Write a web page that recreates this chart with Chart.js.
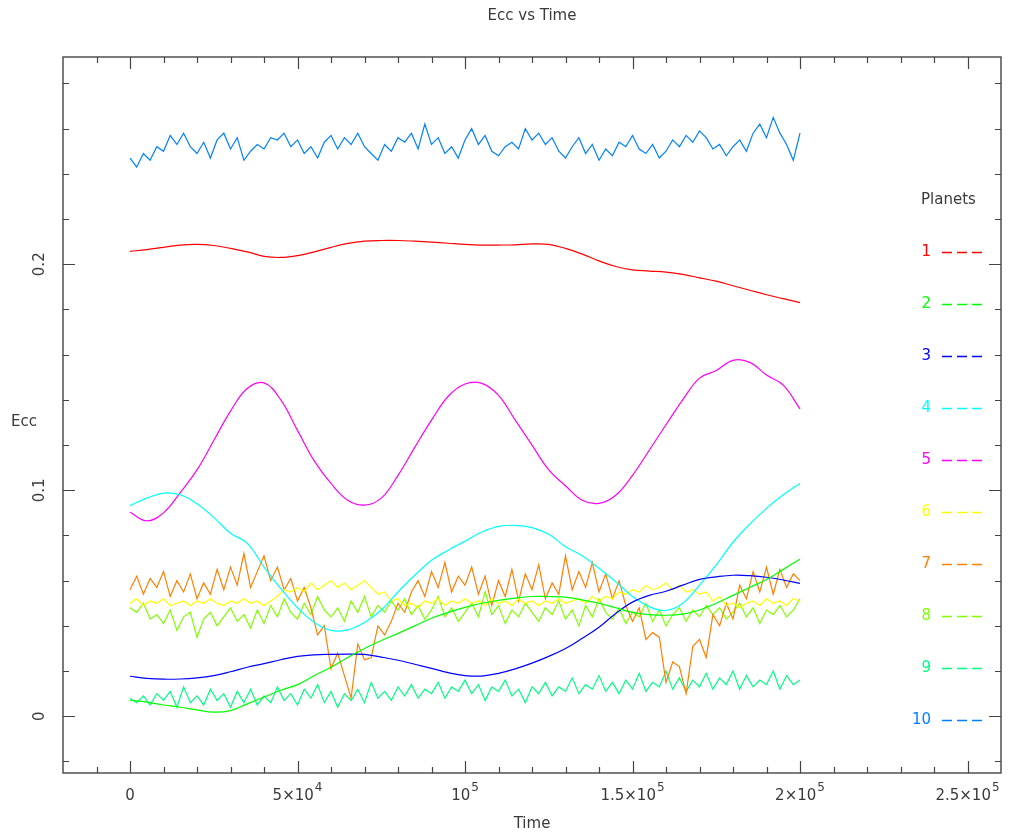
<!DOCTYPE html>
<html>
<head>
<meta charset="utf-8">
<title>Ecc vs Time</title>
<script src="https://cdn.jsdelivr.net/npm/chart.js@4.4.1/dist/chart.umd.min.js"></script>
<style>
  html, body { margin: 0; padding: 0; background: #fff; }
  #wrap { width: 1013px; height: 834px; }
</style>
</head>
<body>
<div id="wrap"><canvas id="chart" width="1013" height="834"></canvas></div>
<script>
// time grids, in thousands of years
const timeCoarse = [0,5,10,15,20,25,30,35,40,45,50,55,60,65,70,75,80,85,90,95,
  100,105,110,115,120,125,130,135,140,145,150,155,160,165,170,175,180,185,190,195,200];
const timeFine = [0,2,4,6,8,10,12,14,16,18,20,22,24,26,28,30,32,34,36,38,
  40,42,44,46,48,50,52,54,56,58,60,62,64,66,68,70,72,74,76,78,
  80,82,84,86,88,90,92,94,96,98,100,102,104,106,108,110,112,114,116,118,
  120,122,124,126,128,130,132,134,136,138,140,142,144,146,148,150,152,154,156,158,
  160,162,164,166,168,170,172,174,176,178,180,182,184,186,188,190,192,194,196,198,200];

// smooth planets (sampled on timeCoarse)
const ecc1 = [0.2057,0.2065,0.2075,0.2085,0.2088,0.2083,0.2070,0.2055,0.2035,0.2030,
  0.2038,0.2055,0.2075,0.2092,0.2102,0.2105,0.2105,0.2102,0.2098,0.2093,
  0.2088,0.2085,0.2085,0.2086,0.2090,0.2088,0.2070,0.2045,0.2015,0.1990,
  0.1975,0.1970,0.1965,0.1955,0.1940,0.1925,0.1905,0.1885,0.1865,0.1848,0.1830];
const ecc2 = [0.0071,0.0063,0.0050,0.0040,0.0028,0.0018,0.0025,0.0055,0.0085,0.0115,
  0.0140,0.0180,0.0217,0.0260,0.0300,0.0335,0.0367,0.0400,0.0434,0.0460,
  0.0482,0.0500,0.0513,0.0523,0.0530,0.0530,0.0527,0.0515,0.0500,0.0480,
  0.0460,0.0450,0.0447,0.0452,0.0470,0.0500,0.0535,0.0570,0.0605,0.0650,0.0695];
const ecc3 = [0.0177,0.0168,0.0164,0.0165,0.0170,0.0180,0.0197,0.0217,0.0233,0.0250,
  0.0265,0.0272,0.0274,0.0275,0.0274,0.0262,0.0248,0.0230,0.0212,0.0193,
  0.0180,0.0178,0.0190,0.0210,0.0235,0.0265,0.0300,0.0345,0.0394,0.0455,
  0.0505,0.0535,0.0553,0.0580,0.0606,0.0617,0.0624,0.0622,0.0615,0.0603,0.0588];
const ecc4 = [0.0932,0.0965,0.0987,0.0980,0.0940,0.0880,0.0810,0.0765,0.0660,0.0565,
  0.0480,0.0415,0.0380,0.0382,0.0415,0.0470,0.0550,0.0624,0.0690,0.0735,
  0.0775,0.0815,0.0840,0.0845,0.0835,0.0805,0.0750,0.0710,0.0655,0.0595,
  0.0530,0.0485,0.0468,0.0500,0.0580,0.0670,0.0770,0.0850,0.0920,0.0980,0.1030];
const ecc5 = [0.0903,0.0865,0.0900,0.0990,0.1090,0.1220,0.1350,0.1450,0.1475,0.1400,
  0.1265,0.1130,0.1030,0.0956,0.0934,0.0965,0.1066,0.1190,0.1310,0.1416,
  0.1470,0.1473,0.1420,0.1310,0.1200,0.1090,0.1020,0.0956,0.0942,0.0978,
  0.1066,0.1177,0.1290,0.1400,0.1496,0.1530,0.1575,0.1566,0.1510,0.1465,0.1360];

// noisy planets (sampled on timeFine)
const ecc6 = [0.050,0.052,0.049,0.051,0.050,0.052,0.049,0.050,0.051,0.049,0.051,
  0.050,0.052,0.050,0.049,0.051,0.050,0.052,0.050,0.051,0.049,
  0.051,0.053,0.056,0.055,0.057,0.055,0.059,0.056,0.058,0.060,
  0.057,0.059,0.056,0.058,0.060,0.057,0.054,0.055,0.051,0.052,
  0.049,0.050,0.048,0.051,0.050,0.052,0.049,0.051,0.050,0.052,
  0.050,0.051,0.049,0.052,0.050,0.051,0.049,0.052,0.050,0.051,
  0.049,0.051,0.050,0.052,0.050,0.051,0.052,0.050,0.053,0.051,
  0.053,0.052,0.055,0.054,0.056,0.055,0.058,0.056,0.057,0.059,
  0.056,0.058,0.055,0.056,0.054,0.055,0.051,0.053,0.049,0.050,
  0.048,0.050,0.051,0.049,0.052,0.050,0.051,0.049,0.052,0.051];
const ecc7 = [0.056,0.062,0.054,0.061,0.057,0.064,0.053,0.060,0.055,0.063,
  0.052,0.059,0.054,0.065,0.056,0.066,0.058,0.072,0.057,0.064,
  0.071,0.060,0.066,0.056,0.061,0.051,0.057,0.048,0.036,0.040,
  0.021,0.028,0.018,0.008,0.032,0.025,0.026,0.040,0.036,0.042,
  0.050,0.046,0.055,0.060,0.053,0.064,0.057,0.068,0.055,0.062,
  0.058,0.066,0.054,0.062,0.049,0.060,0.053,0.065,0.051,0.063,
  0.056,0.067,0.052,0.059,0.054,0.071,0.056,0.064,0.057,0.068,
  0.055,0.063,0.052,0.060,0.049,0.042,0.048,0.034,0.037,0.035,
  0.015,0.024,0.022,0.010,0.031,0.034,0.026,0.045,0.040,0.050,
  0.043,0.058,0.052,0.064,0.055,0.066,0.054,0.065,0.057,0.063,0.060];
const ecc8 = [0.048,0.046,0.050,0.043,0.045,0.041,0.047,0.038,0.044,0.046,0.035,
  0.043,0.046,0.040,0.044,0.048,0.042,0.045,0.039,0.047,0.041,
  0.049,0.044,0.052,0.046,0.043,0.050,0.045,0.053,0.047,0.044,
  0.048,0.042,0.051,0.046,0.053,0.044,0.049,0.046,0.051,0.047,
  0.052,0.045,0.049,0.043,0.047,0.053,0.044,0.048,0.042,0.046,
  0.050,0.044,0.055,0.045,0.049,0.041,0.047,0.044,0.050,0.046,
  0.042,0.048,0.045,0.051,0.043,0.047,0.040,0.049,0.044,0.052,
  0.046,0.043,0.048,0.041,0.046,0.044,0.050,0.042,0.047,0.040,
  0.045,0.048,0.042,0.047,0.044,0.049,0.045,0.048,0.043,0.046,
  0.050,0.044,0.048,0.041,0.047,0.045,0.049,0.044,0.047,0.052];
const ecc9 = [0.008,0.006,0.009,0.005,0.010,0.007,0.011,0.004,0.013,0.006,0.009,
  0.005,0.012,0.007,0.010,0.004,0.011,0.006,0.012,0.005,0.009,
  0.006,0.013,0.007,0.010,0.005,0.012,0.008,0.014,0.006,0.011,
  0.004,0.010,0.007,0.012,0.006,0.015,0.008,0.011,0.007,0.013,
  0.009,0.014,0.008,0.012,0.010,0.015,0.008,0.013,0.011,0.016,
  0.010,0.014,0.007,0.013,0.011,0.016,0.009,0.012,0.006,0.013,
  0.010,0.015,0.009,0.013,0.011,0.017,0.010,0.014,0.012,0.018,
  0.011,0.015,0.010,0.016,0.012,0.019,0.011,0.015,0.013,0.020,
  0.012,0.017,0.011,0.016,0.013,0.019,0.012,0.017,0.014,0.020,
  0.012,0.018,0.013,0.016,0.014,0.020,0.012,0.018,0.014,0.016];
const ecc10 = [0.247,0.243,0.249,0.246,0.252,0.250,0.257,0.253,0.258,0.252,
  0.249,0.254,0.247,0.255,0.258,0.251,0.256,0.246,0.250,0.253,
  0.251,0.256,0.255,0.258,0.252,0.255,0.249,0.252,0.247,0.254,
  0.257,0.251,0.256,0.253,0.258,0.252,0.249,0.246,0.253,0.250,
  0.256,0.254,0.258,0.251,0.262,0.253,0.256,0.249,0.252,0.247,
  0.255,0.260,0.253,0.257,0.250,0.248,0.252,0.254,0.251,0.260,
  0.255,0.258,0.253,0.256,0.250,0.247,0.252,0.256,0.249,0.253,
  0.246,0.251,0.248,0.254,0.252,0.257,0.251,0.249,0.253,0.247,
  0.250,0.255,0.252,0.257,0.254,0.259,0.256,0.251,0.253,0.248,
  0.252,0.255,0.250,0.258,0.262,0.256,0.265,0.258,0.253,0.246,0.258];

const planetNames = ['1','2','3','4','5','6','7','8','9','10'];
const planetColors = ['#ff0000','#00ff00','#0000ff','#00ffff','#ff00ff',
  '#ffff00','#ff8000','#80ff00','#00ff80','#0080ff'];

const xTickValues = [0, 50000, 100000, 150000, 200000, 250000];
const xTickLabels = [['0',''],['5×10','4'],['10','5'],['1.5×10','5'],['2×10','5'],['2.5×10','5']];
const yTickValues = [0, 0.1, 0.2];
const yTickLabels = ['0','0.1','0.2'];

const series = [
  [timeCoarse, ecc1], [timeCoarse, ecc2], [timeCoarse, ecc3], [timeCoarse, ecc4], [timeCoarse, ecc5],
  [timeFine, ecc6], [timeFine, ecc7], [timeFine, ecc8], [timeFine, ecc9], [timeFine, ecc10]
];

const datasets = series.map(([t, e], i) => ({
  label: planetNames[i],
  data: t.map((k, j) => ({ x: k * 1000, y: e[j] })),
  borderColor: planetColors[i],
  borderWidth: 1.2,
  pointRadius: 0,
  // smooth orbits get a soft curve, noisy ones stay straight segments
  tension: t === timeCoarse ? 0.4 : 0,
  fill: false
}));

const FONT = '"DejaVu Sans", sans-serif';
const INK = '#3a3a3a';

// box, inward ticks, labels and legend drawn PGPLOT-style
const pgFrame = {
  id: 'pgFrame',
  afterDraw(chart) {
    const { ctx, chartArea: a, scales: { x, y } } = chart;
    ctx.save();
    ctx.strokeStyle = '#444';
    ctx.lineWidth = 1.4;
    ctx.strokeRect(a.left, a.top, a.right - a.left, a.bottom - a.top);

    ctx.lineWidth = 1.2;
    ctx.beginPath();
    for (let k = -1; k <= 25; k++) {
      const px = Math.round(x.getPixelForValue(k * 10000)) + 0.5;
      const len = k % 5 === 0 ? 12 : 6;
      ctx.moveTo(px, a.bottom); ctx.lineTo(px, a.bottom - len);
      ctx.moveTo(px, a.top); ctx.lineTo(px, a.top + len);
    }
    for (let k = -1; k <= 14; k++) {
      const py = Math.round(y.getPixelForValue(k * 0.02)) + 0.5;
      const len = k % 5 === 0 ? 12 : 6;
      ctx.moveTo(a.left, py); ctx.lineTo(a.left + len, py);
      ctx.moveTo(a.right, py); ctx.lineTo(a.right - len, py);
    }
    ctx.stroke();

    ctx.fillStyle = INK;
    // x tick labels with exponents
    xTickValues.forEach((v, i) => {
      const [main, exp] = xTickLabels[i];
      const px = x.getPixelForValue(v);
      ctx.font = '15px ' + FONT;
      const w1 = ctx.measureText(main).width;
      ctx.font = '12px ' + FONT;
      const w2 = exp ? ctx.measureText(exp).width + 1 : 0;
      const left = px - (w1 + w2) / 2;
      ctx.textAlign = 'left';
      ctx.textBaseline = 'alphabetic';
      ctx.font = '15px ' + FONT;
      ctx.fillText(main, left, 800);
      if (exp) {
        ctx.font = '12px ' + FONT;
        ctx.fillText(exp, left + w1 + 1, 791);
      }
    });

    // y tick labels, rotated
    ctx.font = '15px ' + FONT;
    ctx.textAlign = 'center';
    ctx.textBaseline = 'middle';
    yTickValues.forEach((v, i) => {
      ctx.save();
      ctx.translate(40, y.getPixelForValue(v));
      ctx.rotate(-Math.PI / 2);
      ctx.fillText(yTickLabels[i], 0, 0);
      ctx.restore();
    });

    // titles
    const cx = (a.left + a.right) / 2;
    ctx.fillText('Ecc vs Time', cx, 16);
    ctx.fillText('Time', cx, 824);
    ctx.fillText('Ecc', 24, 422);

    // legend
    ctx.textAlign = 'left';
    ctx.fillText('Planets', 921, 200);
    ctx.textAlign = 'right';
    ctx.lineWidth = 1.3;
    ctx.setLineDash([10, 5]);
    chart.data.datasets.forEach((ds, i) => {
      const ly = 252 + 52 * i;
      ctx.fillStyle = ds.borderColor;
      ctx.fillText(ds.label, 931, ly);
      ctx.strokeStyle = ds.borderColor;
      ctx.beginPath();
      ctx.moveTo(942, ly + 0.5);
      ctx.lineTo(982, ly + 0.5);
      ctx.stroke();
    });
    ctx.restore();
  }
};

new Chart(document.getElementById('chart'), {
  type: 'line',
  data: { datasets },
  options: {
    responsive: false,
    animation: false,
    layout: { padding: { left: 63, top: 57, right: 12, bottom: 61 } },
    plugins: { legend: { display: false }, tooltip: { enabled: false }, title: { display: false } },
    scales: {
      x: { type: 'linear', display: false, min: -20000, max: 260000 },
      y: { type: 'linear', display: false, min: -0.0251, max: 0.2917 }
    }
  },
  plugins: [pgFrame]
});
</script>
</body>
</html>
